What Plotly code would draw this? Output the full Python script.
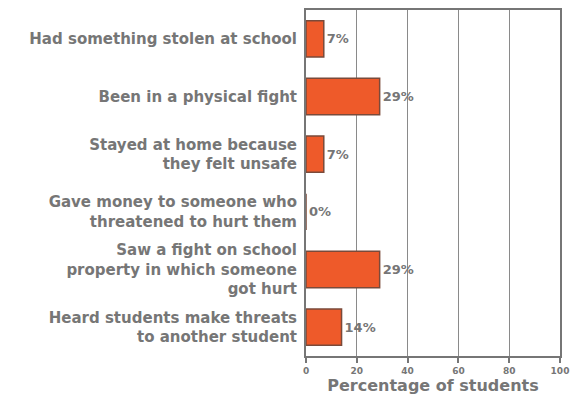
import plotly.graph_objects as go

categories = [
    "Had something stolen at school",
    "Been in a physical fight",
    "Stayed at home because<br>they felt unsafe",
    "Gave money to someone who<br>threatened to hurt them",
    "Saw a fight on school<br>property in which someone<br>got hurt",
    "Heard students make threats<br>to another student",
]
values = [7, 29, 7, 0, 29, 14]
value_labels = ["7%", "29%", "7%", "0%", "29%", "14%"]
x_ticks = [0, 20, 40, 60, 80, 100]

GRAY = "#767676"
FONT = "DejaVu Sans"

fig = go.Figure(
    go.Bar(
        x=values,
        y=categories,
        orientation="h",
        width=0.63,
        marker=dict(color="#EE5A2A", line=dict(color="#7a4a3a", width=1.5)),
        text=value_labels,
        textposition="outside",
        cliponaxis=False,
        textfont=dict(family=FONT, size=13, color=GRAY, weight="bold"),
    )
)

fig.update_layout(
    width=570,
    height=396,
    margin=dict(l=306, r=10, t=10, b=40),
    paper_bgcolor="white",
    plot_bgcolor="white",
    showlegend=False,
    font=dict(family=FONT, color=GRAY),
)

fig.update_xaxes(
    range=[0, 100],
    automargin=False,
    tickvals=x_ticks,
    ticktext=[str(t) for t in x_ticks],
    tickfont=dict(family=FONT, size=9, color=GRAY, weight="bold"),
    ticks="outside",
    ticklen=5,
    tickwidth=2,
    tickcolor=GRAY,
    showgrid=True,
    gridcolor="#8a8a8a",
    gridwidth=1.2,
    showline=True,
    linecolor=GRAY,
    linewidth=2,
    mirror=True,
    zeroline=False,
    title=dict(
        text="Percentage of students",
        font=dict(family=FONT, size=16, color=GRAY, weight="bold"),
        standoff=2,
    ),
)

fig.update_yaxes(
    categoryorder="array",
    categoryarray=categories,
    autorange="reversed",
    automargin=False,
    tickfont=dict(family=FONT, size=15, color=GRAY, weight="bold"),
    ticks="",
    ticklabelstandoff=4,
    showline=True,
    linecolor=GRAY,
    linewidth=2,
    mirror=True,
    showgrid=False,
)

fig.write_html("out.html")
